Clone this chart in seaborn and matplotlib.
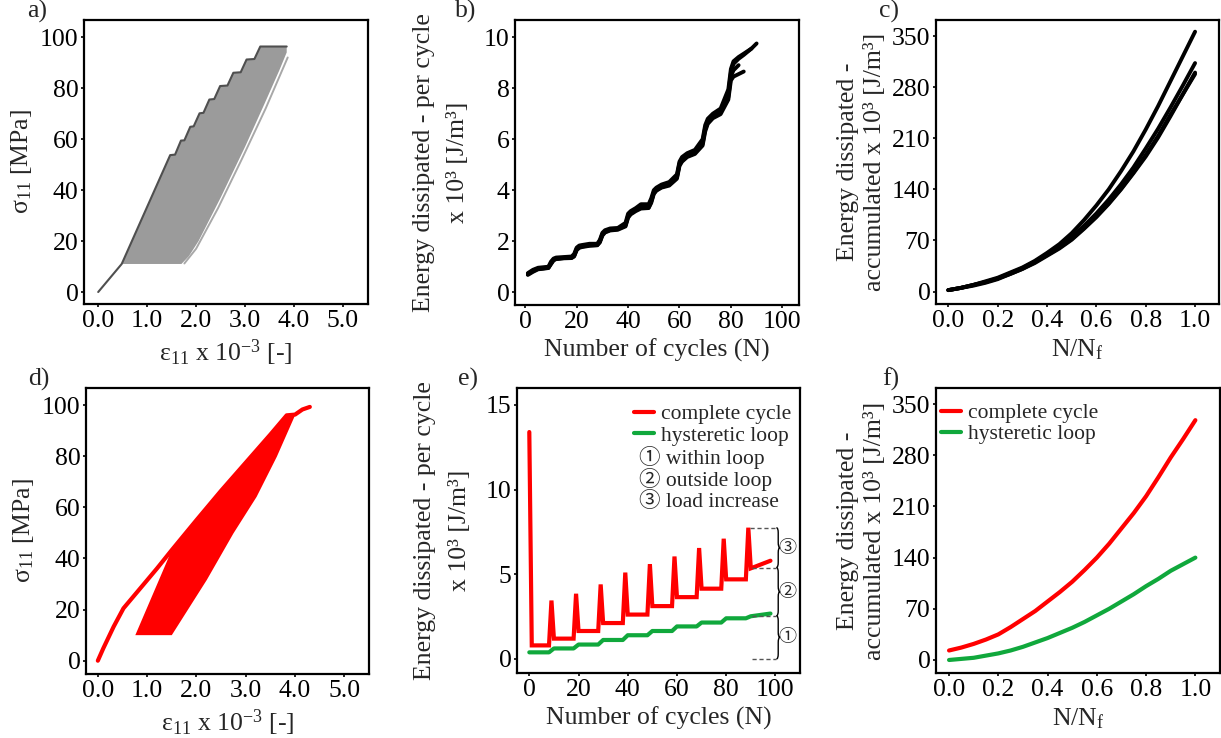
import numpy as np
import pandas as pd
import matplotlib
matplotlib.use("Agg")
import matplotlib.pyplot as plt
import seaborn as sns
from matplotlib.path import Path
from matplotlib.patches import PathPatch

# ---------------- data ----------------
# a) grey hysteresis envelope (strain x1e-3, stress MPa)
A_LEFT_X = [0.0, 0.48, 1.47, 1.57, 1.69, 1.76, 1.88, 1.95, 2.07, 2.15, 2.27, 2.37,
            2.49, 2.64, 2.76, 2.91, 3.03, 3.19, 3.31, 3.85]
A_LEFT_Y = [0.0, 11.0, 53.7, 53.9, 59.4, 59.5, 64.8, 65.0, 70.1, 70.3, 75.5, 75.7,
            80.8, 81.0, 86.0, 86.2, 91.2, 91.4, 96.3, 96.3]
A_RIGHT_X = [3.85, 3.70, 3.40, 3.00, 2.50, 2.05, 1.85, 1.70]
A_RIGHT_Y = [94.0, 87.0, 74.0, 57.0, 37.0, 20.0, 14.0, 11.0]
A_OUTER_X = [1.76, 2.00, 2.45, 2.93, 3.42, 3.87]
A_OUTER_Y = [11.2, 17.0, 33.0, 52.0, 72.0, 92.0]

# b) energy dissipated per cycle, several specimens
B_N = [1, 3, 5, 7, 9, 10, 11, 12, 15, 18, 19, 20, 21, 22, 25, 28, 29, 30, 31, 33,
       36, 39, 40, 41, 43, 45, 48, 49, 50, 51, 53, 56, 59, 60, 61, 63, 66, 69, 70,
       71, 73, 76, 79, 80, 81, 83, 85, 88, 90]
B_S1 = [0.72, 0.85, 0.93, 0.95, 0.97, 1.15, 1.28, 1.32, 1.35, 1.36, 1.45, 1.70, 1.78,
        1.80, 1.85, 1.86, 2.00, 2.28, 2.38, 2.45, 2.48, 2.65, 3.00, 3.10, 3.22, 3.35,
        3.38, 3.60, 3.92, 4.02, 4.15, 4.25, 4.55, 5.05, 5.20, 5.38, 5.50, 5.90, 6.45,
        6.70, 6.92, 7.12, 7.80, 8.60, 8.95, 9.15, 9.30, 9.55, 9.75]
B_S2 = [0.68, 0.80, 0.90, 0.92, 0.95, 1.10, 1.25, 1.30, 1.33, 1.34, 1.40, 1.65, 1.74,
        1.77, 1.82, 1.84, 1.95, 2.22, 2.34, 2.42, 2.45, 2.58, 2.92, 3.05, 3.18, 3.28,
        3.30, 3.50, 3.85, 3.98, 4.10, 4.18, 4.45, 4.95, 5.12, 5.30, 5.42, 5.75, 6.30,
        6.60, 6.82, 6.98, 7.55, 8.30, 8.45, 8.55, 8.65]
B_S3 = [0.75, 0.88, 0.96, 0.98, 1.00, 1.20, 1.32, 1.36, 1.38, 1.40, 1.50, 1.75, 1.83,
        1.85, 1.90, 1.90, 2.05, 2.33, 2.43, 2.50, 2.52, 2.72, 3.08, 3.18, 3.30, 3.45,
        3.45, 3.68, 4.00, 4.10, 4.22, 4.32, 4.62, 5.12, 5.30, 5.45, 5.58, 6.00, 6.55,
        6.80, 7.00, 7.20, 7.95, 8.75, 9.05, 9.22, 9.35, 9.55]
B_S4 = [0.70, 0.83, 0.92, 0.94, 0.96, 1.12, 1.26, 1.31, 1.34, 1.35, 1.42, 1.68, 1.76,
        1.79, 1.84, 1.85, 1.98, 2.25, 2.36, 2.44, 2.47, 2.62, 2.96, 3.08, 3.25, 3.40,
        3.32, 3.55, 3.88, 4.00, 4.12, 4.22, 4.50, 5.00, 5.15, 5.33, 5.46, 5.82, 6.38,
        6.65, 6.88, 7.05, 7.65, 8.45, 8.70, 8.90]

# c) accumulated energy vs N/Nf, several specimens
C_X = [0.0, 0.05, 0.1, 0.15, 0.2, 0.25, 0.3, 0.35, 0.4, 0.45, 0.5, 0.55, 0.6, 0.65,
       0.7, 0.75, 0.8, 0.85, 0.9, 0.95, 1.0]
C_S1 = [2, 5, 9, 14, 19, 26, 33, 42, 53, 65, 80, 98, 118, 140, 165, 192, 222, 254,
        288, 322, 356]
C_S2 = [2, 5, 9, 13, 18, 25, 32, 41, 51, 62, 75, 90, 107, 126, 147, 170, 196, 223,
        252, 282, 313]
C_S3 = [2, 5, 9, 13, 18, 24, 31, 40, 50, 60, 72, 87, 103, 121, 141, 163, 187, 213,
        242, 270, 298]
C_S4 = [2, 5, 8, 12, 17, 24, 31, 39, 49, 59, 71, 86, 102, 120, 140, 162, 185, 211,
        240, 270, 300]

# d) red hysteresis envelope and first loading curve
D_REG_X = [0.76, 1.50, 2.00, 2.50, 3.00, 3.50, 3.83, 4.00, 3.63, 3.22, 2.75, 2.21, 1.50]
D_REG_Y = [10.0, 43.3, 55.0, 66.5, 77.5, 88.5, 96.0, 96.0, 79.8, 64.1, 49.8, 31.6, 10.0]
D_LOAD_X = [0.0, 0.11, 0.32, 0.52, 0.86, 1.20, 1.50, 2.00, 2.50, 3.00, 3.50, 3.83,
            4.00, 4.15, 4.30]
D_LOAD_Y = [0.0, 4.8, 13.3, 20.5, 28.3, 36.1, 43.3, 55.0, 66.5, 77.5, 88.5, 96.0,
            96.3, 98.3, 99.3]

# e) energy per cycle: complete cycle vs hysteretic loop
E_RED_N = [0, 1, 8, 9, 10, 18, 19, 20, 28, 29, 30, 38, 39, 40, 48, 49, 50, 58, 59, 60,
           68, 69, 70, 78, 79, 80, 88, 89, 90, 98]
E_RED = [13.4, 0.8, 0.8, 3.45, 1.2, 1.2, 3.85, 1.65, 1.65, 4.4, 2.12, 2.12, 5.1, 2.62,
         2.62, 5.6, 3.12, 3.12, 6.05, 3.65, 3.65, 6.55, 4.15, 4.15, 7.1, 4.7, 4.7, 7.75,
         5.35, 5.8]
E_GRN_N = [0, 8, 10, 18, 20, 28, 30, 38, 40, 48, 50, 58, 60, 68, 70, 78, 80, 88, 90, 98]
E_GRN = [0.39, 0.39, 0.62, 0.62, 0.85, 0.85, 1.12, 1.12, 1.40, 1.40, 1.65, 1.65, 1.92,
         1.92, 2.15, 2.15, 2.40, 2.40, 2.52, 2.68]
E_BRACE_Y = [0.0, 2.55, 5.4, 7.75]
E_MARKS = ["①", "②", "③"]
E_NOTES = ["① within loop", "② outside loop", "③ load increase"]

# f) accumulated energy: complete cycle vs hysteretic loop
F_X = [0.0, 0.05, 0.1, 0.15, 0.2, 0.25, 0.3, 0.35, 0.4, 0.45, 0.5, 0.55, 0.6, 0.65,
       0.7, 0.75, 0.8, 0.85, 0.9, 0.95, 1.0]
F_RED = [13, 17, 22, 28, 35, 45, 56, 67, 80, 93, 107, 123, 140, 159, 180, 201, 224,
         250, 277, 302, 328]
F_GRN = [0, 1.5, 3, 6, 9, 13, 18, 24, 30, 37, 44, 52, 61, 70, 80, 90, 101, 111, 122,
         131, 140]

# ---------------- style ----------------
sns.set_theme(style="ticks")
plt.rcParams["font.family"] = ["Liberation Serif", "Noto Sans CJK JP", "DejaVu Sans"]
plt.rcParams["mathtext.fontset"] = "custom"
plt.rcParams["mathtext.rm"] = "Liberation Serif"
plt.rcParams["mathtext.it"] = "Liberation Serif:italic"
plt.rcParams["mathtext.bf"] = "Liberation Serif:bold"

FS = 18.5
LFS = 15.5
RED = "#ff0000"
GREEN = "#10a83c"

fig = plt.figure(figsize=(12.21, 7.38), dpi=100)
rects = {
    "a": [84 / 1221, 1 - 304 / 738, 284 / 1221, 284 / 738],
    "b": [515 / 1221, 1 - 305 / 738, 284 / 1221, 285 / 738],
    "c": [936 / 1221, 1 - 304 / 738, 283 / 1221, 284 / 738],
    "d": [86 / 1221, 1 - 674 / 738, 283 / 1221, 286 / 738],
    "e": [517 / 1221, 1 - 673 / 738, 283 / 1221, 285 / 738],
    "f": [936 / 1221, 1 - 673 / 738, 284 / 1221, 285 / 738],
}
axs = {k: fig.add_axes(v) for k, v in rects.items()}
letter_x = {"a": -0.20, "b": -0.21, "c": -0.20, "d": -0.205, "e": -0.208, "f": -0.19}


def style(ax, key):
    for s in ax.spines.values():
        s.set_visible(True)
        s.set_linewidth(1.6)
        s.set_color("black")
    ax.tick_params(labelsize=FS, length=2.5, width=1.2, pad=1.5, colors="black",
                   direction="out")
    ax.grid(False)
    ax.set_facecolor("white")
    ax.text(letter_x[key], 1.01, key + ")", transform=ax.transAxes, fontsize=FS,
            ha="left", va="baseline")


def two_line_ylabel(ax, line1, line2, x1, x2):
    ax.set_ylabel("")
    ax.text(x1, 0.5, line1, transform=ax.transAxes, rotation=90, fontsize=FS,
            ha="center", va="center")
    ax.text(x2, 0.5, line2, transform=ax.transAxes, rotation=90, fontsize=FS,
            ha="center", va="center")


def brace(ax, x0, y0, y1, w, r):
    ym = (y0 + y1) / 2
    xm = x0 + w / 2
    verts = [(x0, y0), (xm, y0), (xm, y0 + r), (xm, ym - r), (xm, ym), (x0 + w, ym),
             (xm, ym), (xm, ym + r), (xm, y1 - r), (xm, y1), (x0, y1)]
    codes = [Path.MOVETO, Path.CURVE3, Path.CURVE3, Path.LINETO, Path.CURVE3,
             Path.CURVE3, Path.CURVE3, Path.CURVE3, Path.LINETO, Path.CURVE3, Path.CURVE3]
    ax.add_patch(PathPatch(Path(verts, codes), fill=False, lw=1.0, edgecolor="black",
                           clip_on=False))


strain_label = r"ε$_{11}$ x 10$^{-3}$ [-]"
stress_label = r"σ$_{11}$ [MPa]"
per_cycle_l1 = "Energy dissipated - per cycle"
per_cycle_l2 = "x 10³ [J/m³]"
accum_label = "Energy dissipated -\naccumulated x 10³ [J/m³]"
nnf_label = r"N/N$_{\mathrm{f}}$"

# ---- a ----
ax = axs["a"]
poly_x = A_LEFT_X[1:] + A_RIGHT_X
poly_y = A_LEFT_Y[1:] + A_RIGHT_Y
ax.fill(poly_x, poly_y, color="#9b9b9b", lw=0, zorder=1)
sns.lineplot(x=A_OUTER_X, y=A_OUTER_Y, sort=False, estimator=None, color="#a8a8a8",
             lw=1.4, ax=ax, zorder=2)
sns.lineplot(x=A_LEFT_X, y=A_LEFT_Y, sort=False, estimator=None, color="#4f4f4f",
             lw=1.5, ax=ax, zorder=3)
ax.set_xlim(-0.29, 5.51)
ax.set_ylim(-4.7, 106.7)
ax.set_xticks([0, 1, 2, 3, 4, 5])
ax.set_xticklabels(["0.0", "1.0", "2.0", "3.0", "4.0", "5.0"])
ax.set_yticks([0, 20, 40, 60, 80, 100])
ax.set_xlabel(strain_label, fontsize=FS)
ax.set_ylabel(stress_label, fontsize=FS)
style(ax, "a")

# ---- b ----
ax = axs["b"]
rows = []
for name, ys in [("s1", B_S1), ("s2", B_S2), ("s3", B_S3), ("s4", B_S4)]:
    for n, v in zip(B_N, ys):
        rows.append((name, n, v))
dfb = pd.DataFrame(rows, columns=["spec", "N", "E"])
sns.lineplot(data=dfb, x="N", y="E", units="spec", estimator=None, color="black",
             lw=2.8, ax=ax)
ax.set_xlim(-4, 106.5)
ax.set_ylim(-0.5, 10.67)
ax.set_xticks([0, 20, 40, 60, 80, 100])
ax.set_yticks([0, 2, 4, 6, 8, 10])
ax.set_xlabel("Number of cycles (N)", fontsize=FS)
two_line_ylabel(ax, per_cycle_l1, per_cycle_l2, -0.322, -0.2)
style(ax, "b")

# ---- c ----
ax = axs["c"]
rows = []
for name, ys in [("s1", C_S1), ("s2", C_S2), ("s3", C_S3), ("s4", C_S4)]:
    for n, v in zip(C_X, ys):
        rows.append((name, n, v))
dfc = pd.DataFrame(rows, columns=["spec", "x", "E"])
sns.lineplot(data=dfc, x="x", y="E", units="spec", estimator=None, color="black",
             lw=2.8, ax=ax)
ax.set_xlim(-0.05, 1.097)
ax.set_ylim(-17, 372)
ax.set_xticks([0, 0.2, 0.4, 0.6, 0.8, 1.0])
ax.set_xticklabels(["0.0", "0.2", "0.4", "0.6", "0.8", "1.0"])
ax.set_yticks([0, 70, 140, 210, 280, 350])
ax.set_xlabel(nnf_label, fontsize=FS)
ax.set_ylabel(accum_label, fontsize=FS, linespacing=1.3)
style(ax, "c")

# ---- d ----
ax = axs["d"]
ax.fill(D_REG_X, D_REG_Y, color=RED, lw=0, zorder=1)
sns.lineplot(x=D_LOAD_X, y=D_LOAD_Y, sort=False, estimator=None, color=RED, lw=3,
             ax=ax, zorder=2)
ax.set_xlim(-0.24, 5.5)
ax.set_ylim(-5.2, 106.7)
ax.set_xticks([0, 1, 2, 3, 4, 5])
ax.set_xticklabels(["0.0", "1.0", "2.0", "3.0", "4.0", "5.0"])
ax.set_yticks([0, 20, 40, 60, 80, 100])
ax.set_xlabel(strain_label, fontsize=FS)
ax.set_ylabel(stress_label, fontsize=FS)
style(ax, "d")

# ---- e ----
ax = axs["e"]
sns.lineplot(x=E_RED_N, y=E_RED, sort=False, estimator=None, color=RED, lw=3,
             solid_joinstyle="miter", label="complete cycle", ax=ax)
sns.lineplot(x=E_GRN_N, y=E_GRN, sort=False, estimator=None, color=GREEN, lw=3,
             label="hysteretic loop", ax=ax)
for i, y in enumerate(E_BRACE_Y):
    x_start = 89.5 if i == len(E_BRACE_Y) - 1 else 90.3
    ax.plot([x_start, 100.4], [y, y], ls=(0, (3, 2)), color="#555555", lw=1.0)
for i in range(3):
    brace(ax, 100.4, E_BRACE_Y[i], E_BRACE_Y[i + 1], 1.5, 0.3)
    ax.text(104.9, (E_BRACE_Y[i] + E_BRACE_Y[i + 1]) / 2, E_MARKS[i], fontsize=13,
            ha="center", va="center",
            family=["Noto Sans CJK JP", "DejaVu Sans"])
ax.legend(loc="upper left", bbox_to_anchor=(0.405, 0.95), frameon=False,
          fontsize=LFS, handlelength=0.95, handletextpad=0.3, labelspacing=0.05,
          borderaxespad=0, borderpad=0.1)
for i, t in enumerate(E_NOTES):
    ax.text(0.43, 0.757 - 0.078 * i, t, transform=ax.transAxes, fontsize=LFS,
            ha="left", va="center",
            family=["Liberation Serif", "Noto Sans CJK JP"])
ax.set_xlim(-5, 110)
ax.set_ylim(-0.83, 16.0)
ax.set_xticks([0, 20, 40, 60, 80, 100])
ax.set_yticks([0, 5, 10, 15])
ax.set_xlabel("Number of cycles (N)", fontsize=FS)
two_line_ylabel(ax, per_cycle_l1, per_cycle_l2, -0.325, -0.202)
style(ax, "e")

# ---- f ----
ax = axs["f"]
sns.lineplot(x=F_X, y=F_RED, sort=False, estimator=None, color=RED, lw=3,
             label="complete cycle", ax=ax)
sns.lineplot(x=F_X, y=F_GRN, sort=False, estimator=None, color=GREEN, lw=3,
             label="hysteretic loop", ax=ax)
ax.legend(loc="upper left", bbox_to_anchor=(0.01, 0.955), frameon=False,
          fontsize=LFS, handlelength=0.95, handletextpad=0.3, labelspacing=0.05,
          borderaxespad=0, borderpad=0.1)
ax.set_xlim(-0.053, 1.1)
ax.set_ylim(-17.8, 372)
ax.set_xticks([0, 0.2, 0.4, 0.6, 0.8, 1.0])
ax.set_xticklabels(["0.0", "0.2", "0.4", "0.6", "0.8", "1.0"])
ax.set_yticks([0, 70, 140, 210, 280, 350])
ax.set_xlabel(nnf_label, fontsize=FS)
ax.set_ylabel(accum_label, fontsize=FS, linespacing=1.3)
style(ax, "f")

fig.savefig("out.png", dpi=100, facecolor="white")
